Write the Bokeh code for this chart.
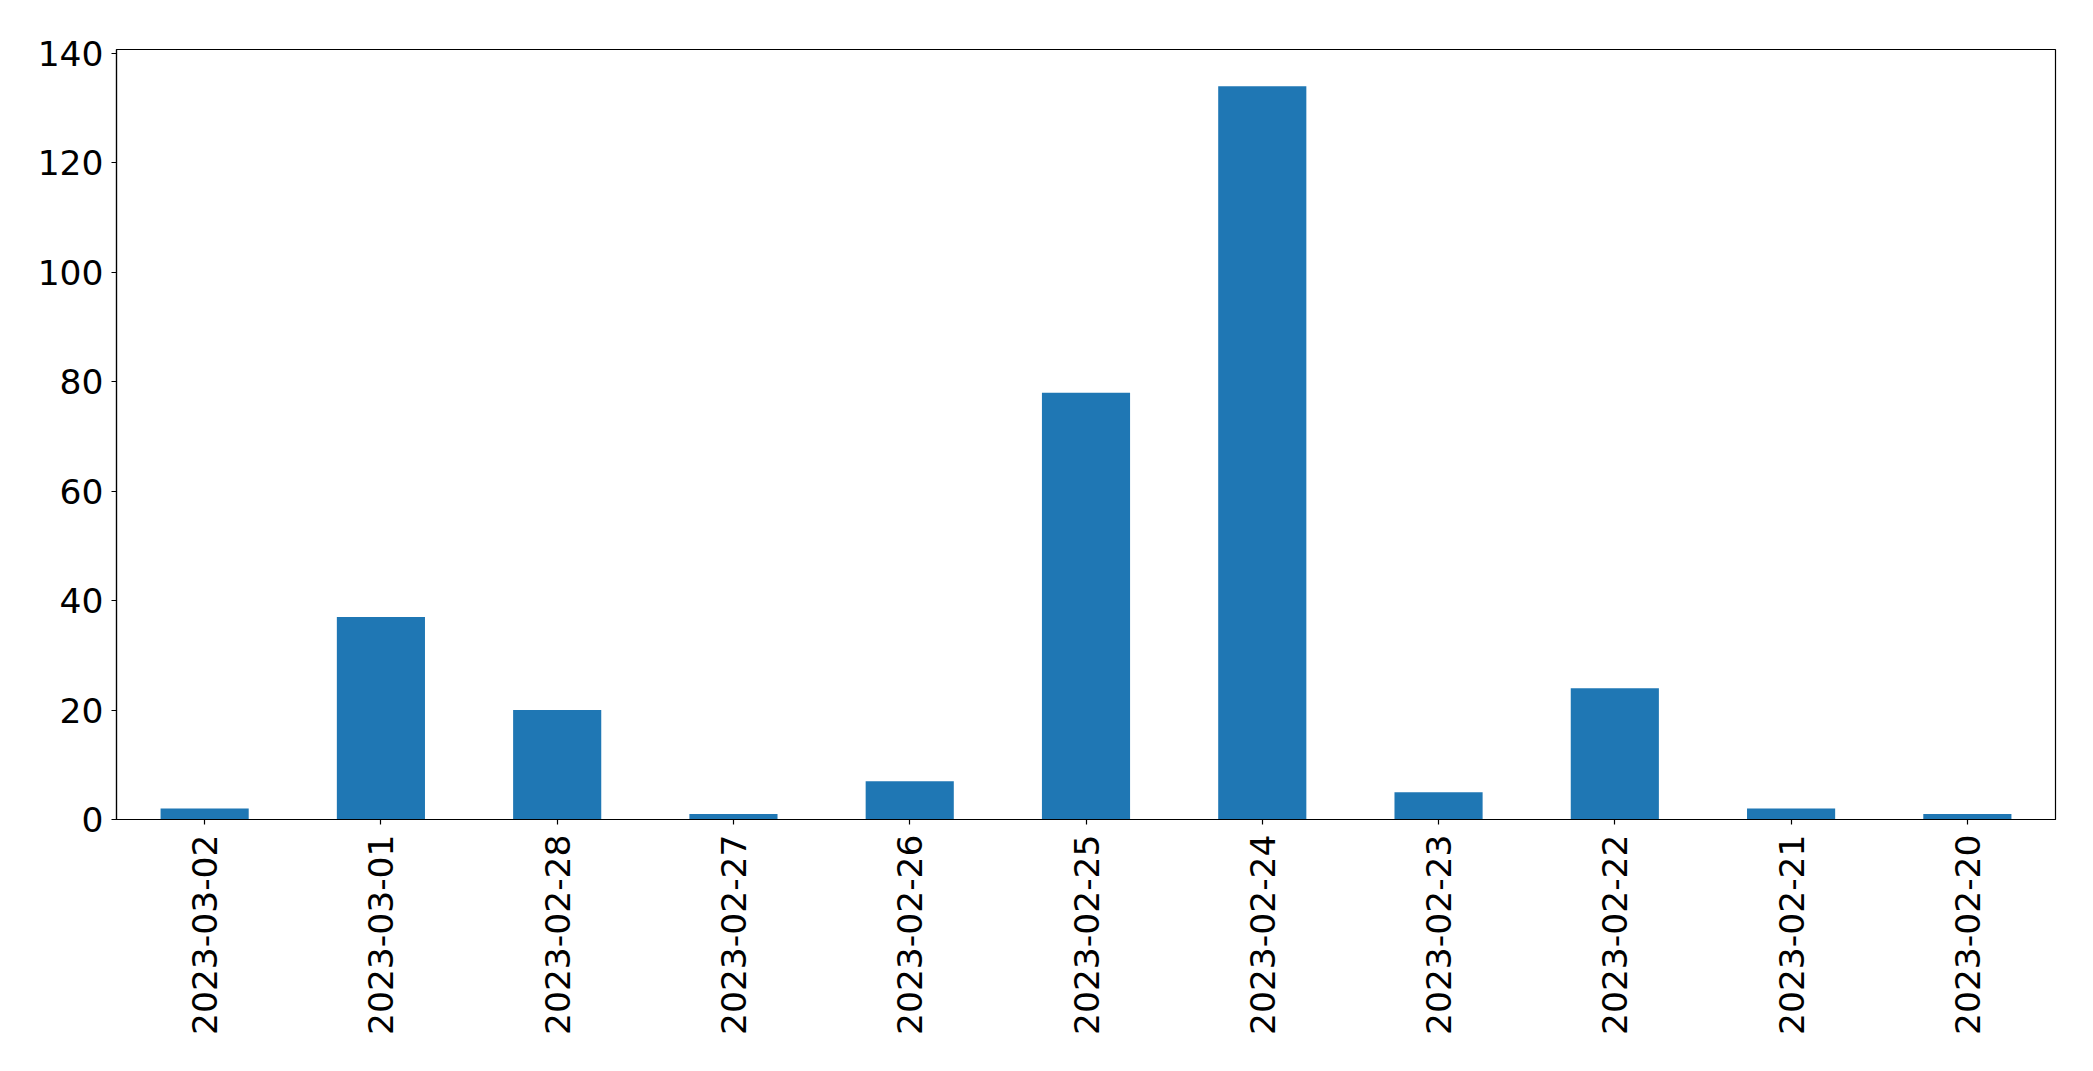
import math
from bokeh.plotting import figure
from bokeh.models import ColumnDataSource, FactorRange, Range1d, FixedTicker
from bokeh.embed import file_html
from bokeh.resources import INLINE

dates = ["2023-03-02", "2023-03-01", "2023-02-28", "2023-02-27", "2023-02-26",
         "2023-02-25", "2023-02-24", "2023-02-23", "2023-02-22", "2023-02-21",
         "2023-02-20"]
counts = [2, 37, 20, 1, 7, 78, 134, 5, 24, 2, 1]
y_ticks = [0, 20, 40, 60, 80, 100, 120, 140]

src = ColumnDataSource(data=dict(date=dates, count=counts))

p = figure(x_range=FactorRange(factors=dates, range_padding=0),
           y_range=Range1d(0, 140.7),
           width=2085, height=1063,
           output_backend="svg", toolbar_location=None,
           min_border_left=116, min_border_right=30,
           min_border_top=49, min_border_bottom=244)

p.vbar(x="date", top="count", width=0.5, source=src,
       fill_color="#1f77b4", line_color=None)

p.xgrid.visible = False
p.ygrid.visible = False
p.outline_line_color = "black"
p.outline_line_width = 1.2
p.background_fill_color = "white"
p.border_fill_color = "white"

p.yaxis.ticker = FixedTicker(ticks=y_ticks)
for ax in (p.xaxis[0], p.yaxis[0]):
    ax.axis_line_color = "black"
    ax.axis_line_width = 1.2
    ax.major_tick_line_color = "black"
    ax.major_tick_line_width = 1.2
    ax.major_tick_out = 5
    ax.major_tick_in = 0
    ax.minor_tick_line_color = None
    ax.major_label_text_font = "DejaVu Sans"
    ax.major_label_text_font_size = "34.5px"
    ax.major_label_text_color = "black"
    ax.major_label_standoff = 8
p.xaxis.major_label_orientation = math.pi / 2
p.xaxis.major_label_standoff = 10

open("out.html", "w").write(file_html(p, INLINE))
